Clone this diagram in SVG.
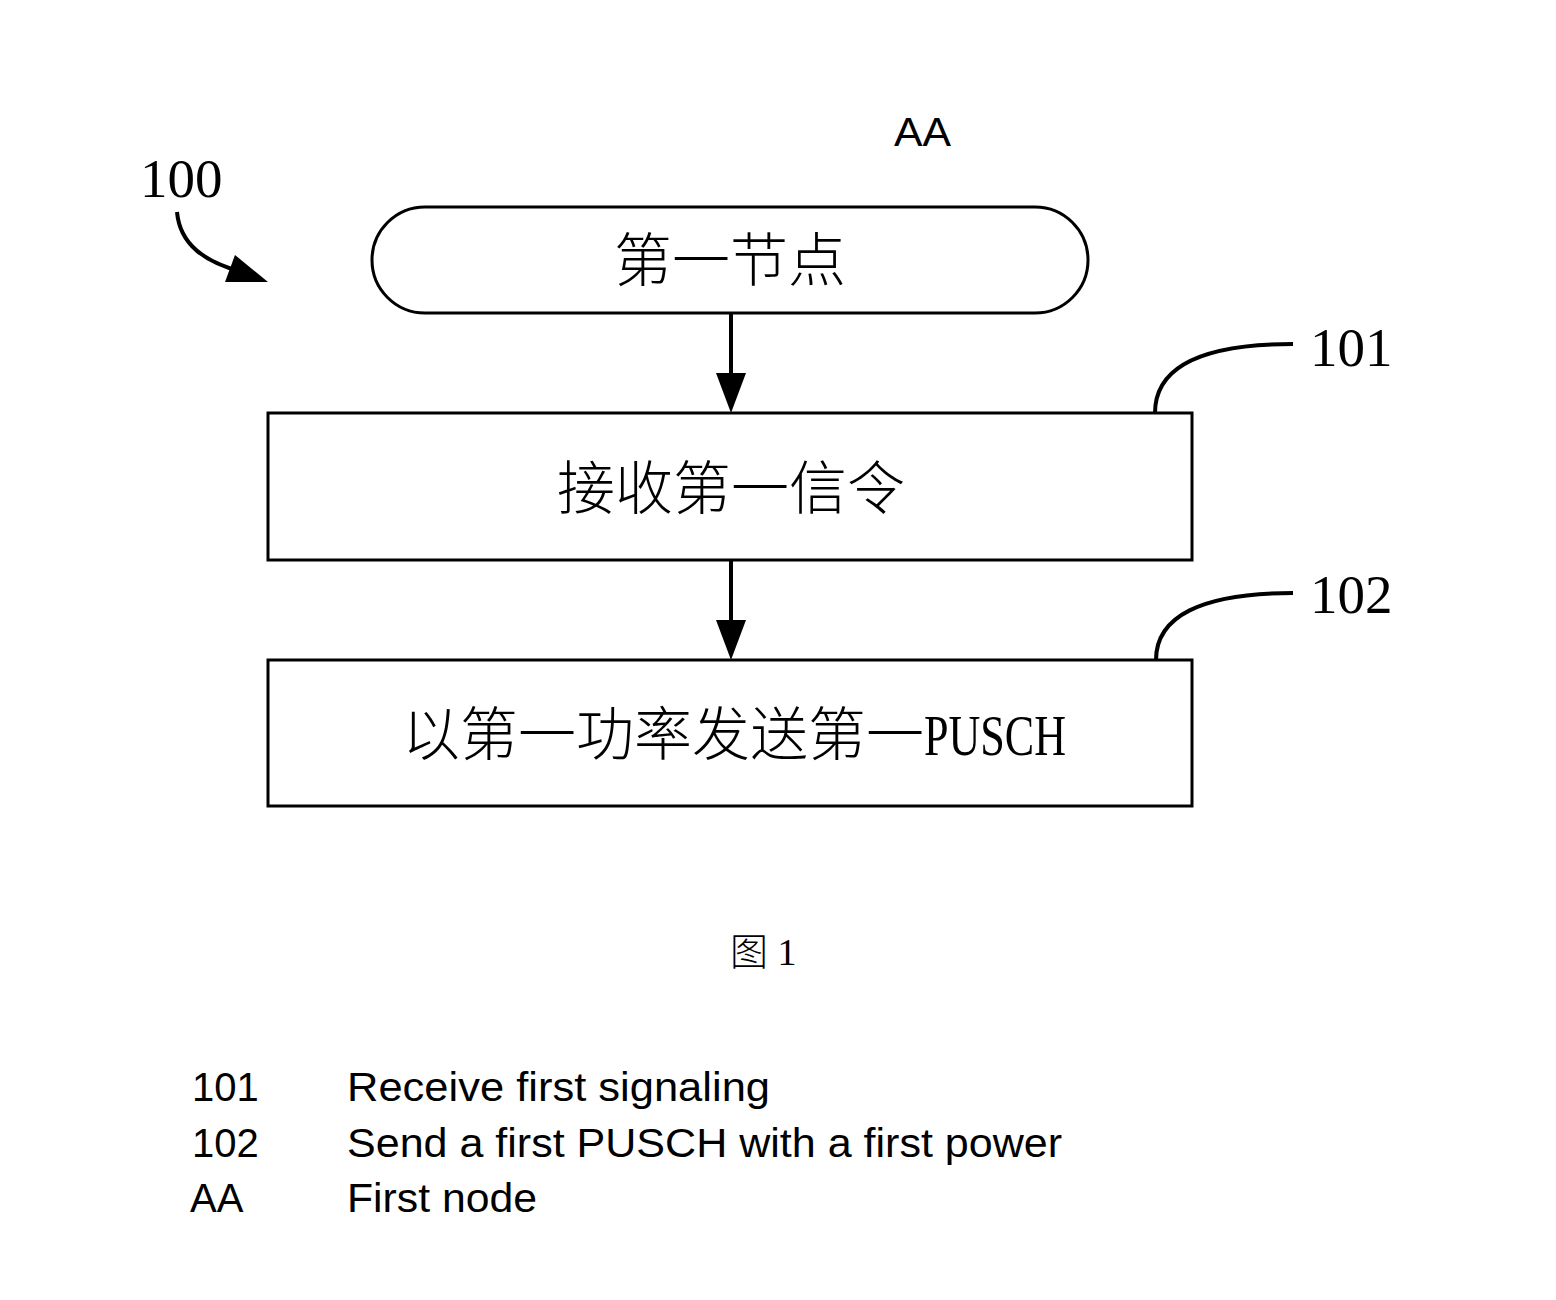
<svg xmlns="http://www.w3.org/2000/svg" width="1556" height="1300" viewBox="0 0 1556 1300">
<style>
.shape{fill:#fff;stroke:#000;stroke-width:3}
.line{fill:none;stroke:#000;stroke-width:4}
.cn{font-family:"Liberation Serif","Noto Sans CJK SC",serif;font-size:58px;font-weight:300;fill:#000}
.num{font-family:"Liberation Serif","Noto Sans CJK SC",serif;font-size:55px;fill:#000}
.leg{font-family:"Liberation Sans",Arial,sans-serif;font-size:40px;fill:#000}
</style>
<rect width="1556" height="1300" fill="#fff"/>
<g id="connectors">
<path class="line" d="M731,313 V376"/>
<polygon points="716,373 746,373 731,413" fill="#000"/>
<path class="line" d="M731,560 V623"/>
<polygon points="716,620 746,620 731,660" fill="#000"/>
<path class="line" d="M177,212 C180,245 205,262 242,272"/>
<polygon points="235,255 268,282 225,282" fill="#000"/>
<path class="line" d="M1155,413 C1155,368 1200,344 1293,344"/>
<path class="line" d="M1156,660 C1156,617 1200,593 1293,593"/>
</g>
<g id="label100"><text class="num" x="140" y="197">100</text></g>
<g id="labelAA"><text class="leg" x="894" y="146" textLength="57" lengthAdjust="spacingAndGlyphs">AA</text></g>
<g id="node-start">
<rect class="shape" x="372" y="207" width="716" height="106" rx="53" ry="53"/>
<text class="cn" x="730" y="281" text-anchor="middle">第一节点</text>
</g>
<g id="node-101">
<rect class="shape" x="268" y="413" width="924" height="147"/>
<text class="cn" x="731" y="509" text-anchor="middle">接收第一信令</text>
</g>
<g id="node-102">
<rect class="shape" x="268" y="660" width="924" height="146"/>
<text class="cn" x="402" y="755">以第一功率发送第一<tspan font-weight="400" textLength="142" lengthAdjust="spacingAndGlyphs">PUSCH</tspan></text>
</g>
<g id="label101"><text class="num" x="1310" y="366">101</text></g>
<g id="label102"><text class="num" x="1310" y="613">102</text></g>
<g id="caption"><text x="730" y="965" style="font-family:'Liberation Serif','Noto Sans CJK SC',serif;font-size:38px;font-weight:300">图 1</text></g>
<g id="legend">
<text class="leg" x="192" y="1101">101</text>
<text class="leg" x="347" y="1101" textLength="423" lengthAdjust="spacingAndGlyphs">Receive first signaling</text>
<text class="leg" x="192" y="1157">102</text>
<text class="leg" x="347" y="1157" textLength="715" lengthAdjust="spacingAndGlyphs">Send a first PUSCH with a first power</text>
<text class="leg" x="190" y="1212">AA</text>
<text class="leg" x="347" y="1212" textLength="190" lengthAdjust="spacingAndGlyphs">First node</text>
</g>
</svg>
